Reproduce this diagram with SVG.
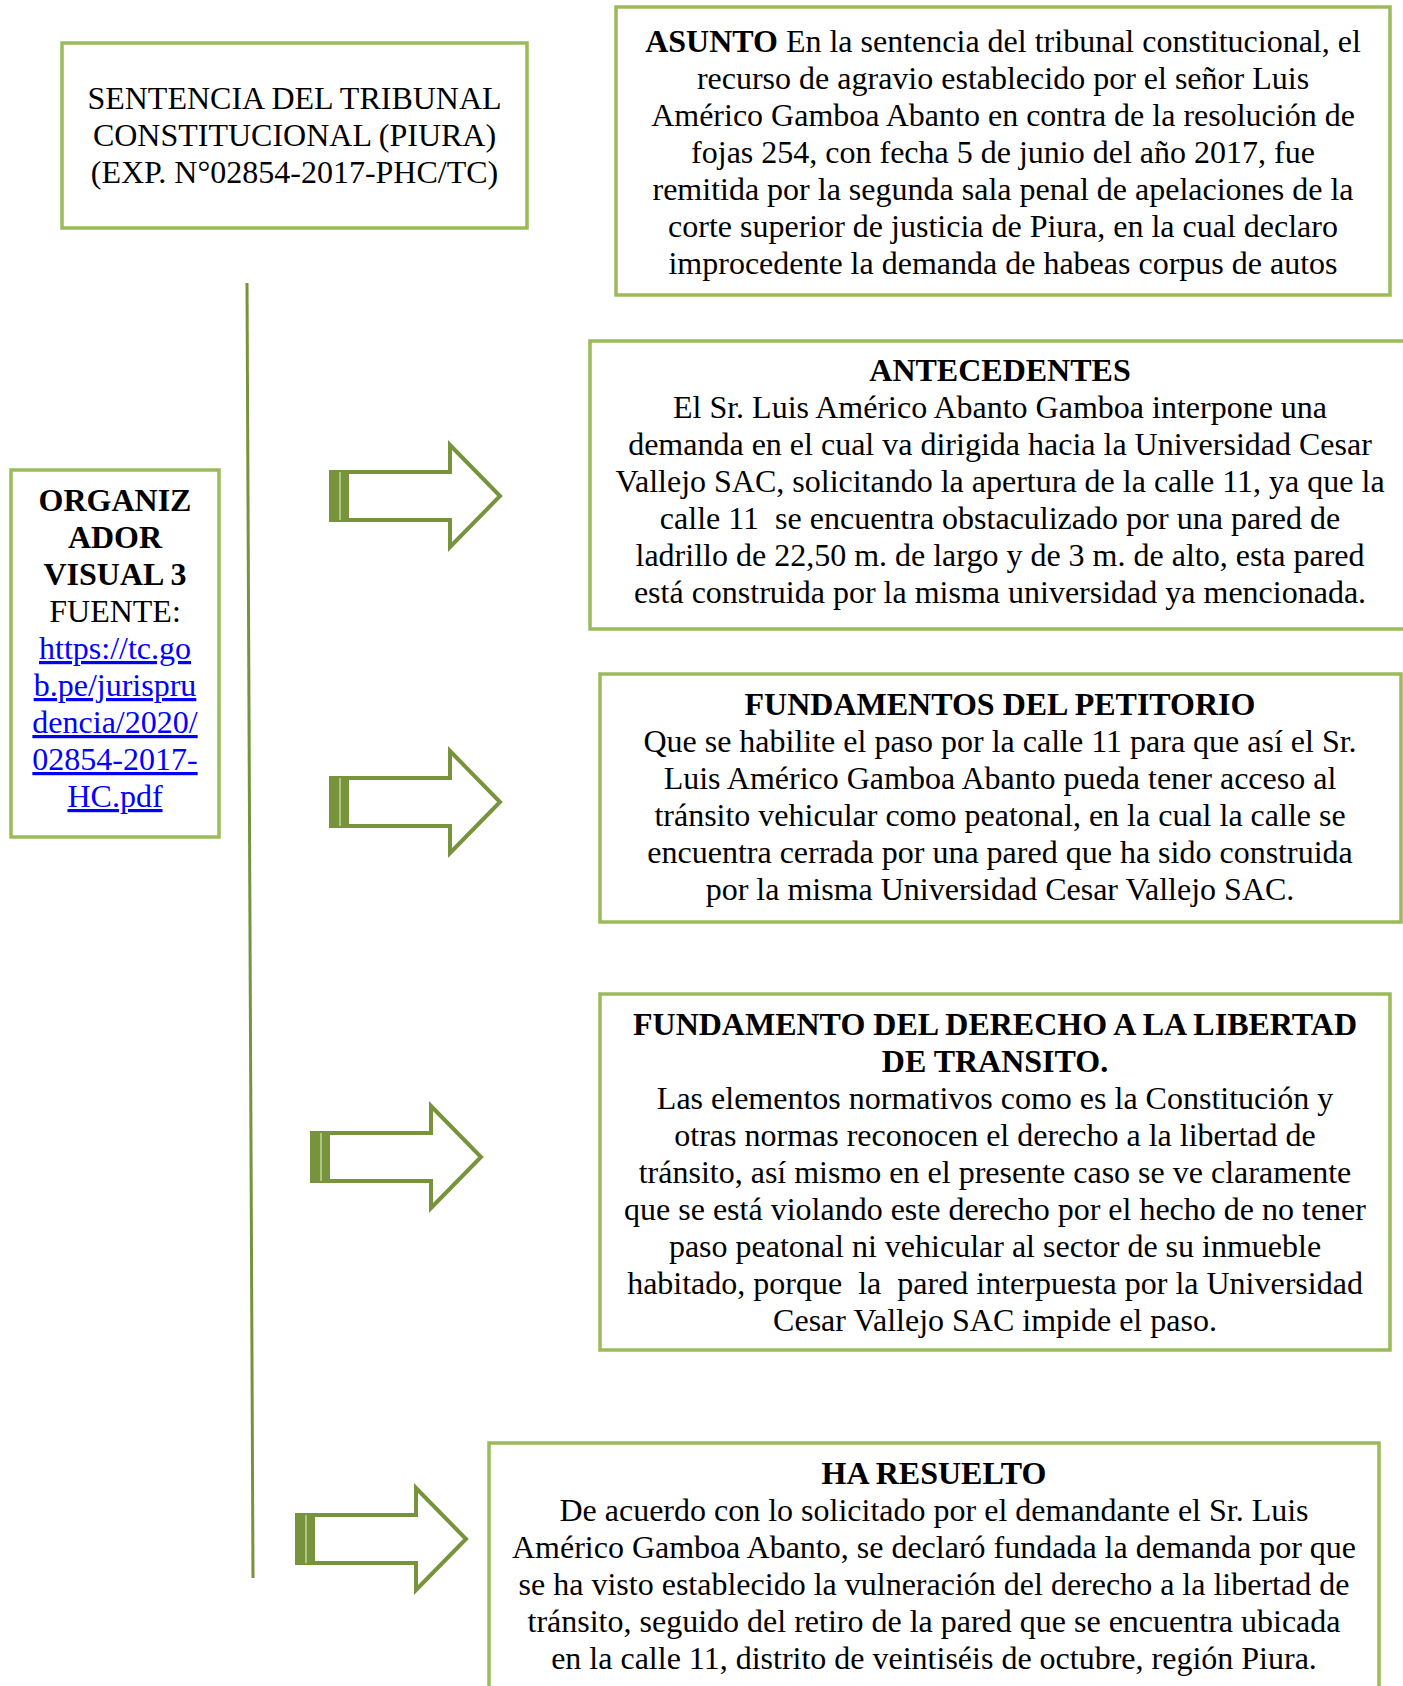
<svg xmlns="http://www.w3.org/2000/svg" width="1403" height="1686" viewBox="0 0 1403 1686">
<style>
.box{fill:#fff;stroke:#9BBB59;stroke-width:3.5}
.t{font-family:"Liberation Serif","Times New Roman",serif;font-size:32px;fill:#000;text-anchor:middle;white-space:pre}
.b{font-weight:bold}
.lnk{fill:#0000FF;text-decoration:underline}
.arr{fill:#fff;stroke:#77933C;stroke-width:4}
.band{fill:#77933C}
.stripe{stroke:#C3D69B;stroke-width:1.5}
.spine{stroke:#77933C;stroke-width:3;fill:none}
</style>
<defs>
<g id="arrow">
<path class="arr" d="M2,-24 H121 V-51 L171,0 L121,51 V24 H2 Z"/>
<rect class="band" x="0" y="-26" width="20" height="52"/>
<line class="stripe" x1="11" y1="-24" x2="11" y2="24"/>
</g>
</defs>
<g id="connectors">
<line class="spine" x1="247" y1="283" x2="253" y2="1578"/>
<use href="#arrow" transform="translate(329,496)"/>
<use href="#arrow" transform="translate(329,802)"/>
<use href="#arrow" transform="translate(310,1157)"/>
<use href="#arrow" transform="translate(295,1539)"/>
</g>
<g id="titulo">
<rect class="box" x="62" y="43" width="465" height="185"/>
<text class="t" x="294.5" y="109">SENTENCIA DEL TRIBUNAL</text>
<text class="t" x="294.5" y="146">CONSTITUCIONAL (PIURA)</text>
<text class="t" x="294.5" y="183">(EXP. N°02854-2017-PHC/TC)</text>
</g>
<g id="asunto">
<rect class="box" x="616" y="7" width="774" height="288"/>
<text class="t" x="1003" y="52"><tspan class="b">ASUNTO</tspan> En la sentencia del tribunal constitucional, el</text>
<text class="t" x="1003" y="89">recurso de agravio establecido por el señor Luis</text>
<text class="t" x="1003" y="126">Américo Gamboa Abanto en contra de la resolución de</text>
<text class="t" x="1003" y="163">fojas 254, con fecha 5 de junio del año 2017, fue</text>
<text class="t" x="1003" y="200">remitida por la segunda sala penal de apelaciones de la</text>
<text class="t" x="1003" y="237">corte superior de justicia de Piura, en la cual declaro</text>
<text class="t" x="1003" y="274">improcedente la demanda de habeas corpus de autos</text>
</g>
<g id="antecedentes">
<rect class="box" x="590" y="341" width="820" height="288"/>
<text class="t b" x="1000" y="381">ANTECEDENTES</text>
<text class="t" x="1000" y="418">El Sr. Luis Américo Abanto Gamboa interpone una</text>
<text class="t" x="1000" y="455">demanda en el cual va dirigida hacia la Universidad Cesar</text>
<text class="t" x="1000" y="492">Vallejo SAC, solicitando la apertura de la calle 11, ya que la</text>
<text class="t" x="1000" y="529">calle 11  se encuentra obstaculizado por una pared de</text>
<text class="t" x="1000" y="566">ladrillo de 22,50 m. de largo y de 3 m. de alto, esta pared</text>
<text class="t" x="1000" y="603">está construida por la misma universidad ya mencionada.</text>
</g>
<g id="petitorio">
<rect class="box" x="600" y="674" width="801" height="248"/>
<text class="t b" x="1000" y="715">FUNDAMENTOS DEL PETITORIO</text>
<text class="t" x="1000" y="752">Que se habilite el paso por la calle 11 para que así el Sr.</text>
<text class="t" x="1000" y="789">Luis Américo Gamboa Abanto pueda tener acceso al</text>
<text class="t" x="1000" y="826">tránsito vehicular como peatonal, en la cual la calle se</text>
<text class="t" x="1000" y="863">encuentra cerrada por una pared que ha sido construida</text>
<text class="t" x="1000" y="900">por la misma Universidad Cesar Vallejo SAC.</text>
</g>
<g id="derecho">
<rect class="box" x="600" y="994" width="790" height="356"/>
<text class="t b" x="995" y="1035">FUNDAMENTO DEL DERECHO A LA LIBERTAD</text>
<text class="t b" x="995" y="1072">DE TRANSITO.</text>
<text class="t" x="995" y="1109">Las elementos normativos como es la Constitución y</text>
<text class="t" x="995" y="1146">otras normas reconocen el derecho a la libertad de</text>
<text class="t" x="995" y="1183">tránsito, así mismo en el presente caso se ve claramente</text>
<text class="t" x="995" y="1220">que se está violando este derecho por el hecho de no tener</text>
<text class="t" x="995" y="1257">paso peatonal ni vehicular al sector de su inmueble</text>
<text class="t" x="995" y="1294">habitado, porque  la  pared interpuesta por la Universidad</text>
<text class="t" x="995" y="1331">Cesar Vallejo SAC impide el paso.</text>
</g>
<g id="resuelto">
<rect class="box" x="489" y="1443" width="890" height="270"/>
<text class="t b" x="934" y="1484">HA RESUELTO</text>
<text class="t" x="934" y="1521">De acuerdo con lo solicitado por el demandante el Sr. Luis</text>
<text class="t" x="934" y="1558">Américo Gamboa Abanto, se declaró fundada la demanda por que</text>
<text class="t" x="934" y="1595">se ha visto establecido la vulneración del derecho a la libertad de</text>
<text class="t" x="934" y="1632">tránsito, seguido del retiro de la pared que se encuentra ubicada</text>
<text class="t" x="934" y="1669">en la calle 11, distrito de veintiséis de octubre, región Piura.</text>
</g>
<g id="organizador">
<rect class="box" x="11" y="470" width="208" height="367"/>
<text class="t b" x="115" y="511">ORGANIZ</text>
<text class="t b" x="115" y="548">ADOR</text>
<text class="t b" x="115" y="585">VISUAL 3</text>
<text class="t" x="115" y="622">FUENTE:</text>
<text class="t lnk" x="115" y="659">https://tc.go</text>
<text class="t lnk" x="115" y="696">b.pe/jurispru</text>
<text class="t lnk" x="115" y="733">dencia/2020/</text>
<text class="t lnk" x="115" y="770">02854-2017-</text>
<text class="t lnk" x="115" y="807">HC.pdf</text>
</g>
</svg>
